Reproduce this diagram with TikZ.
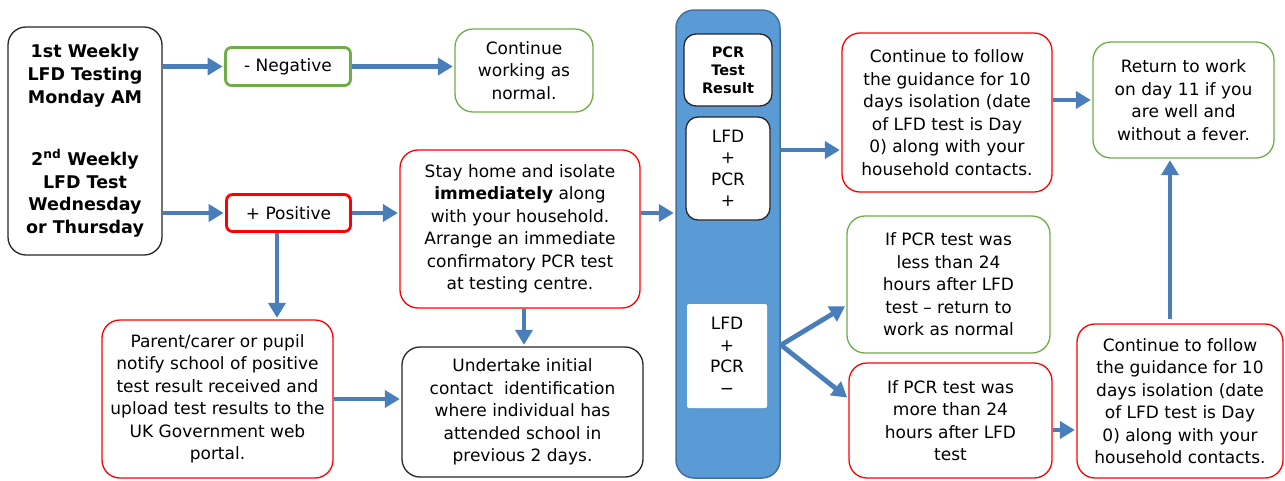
\documentclass[tikz,border=0pt]{standalone}
\usepackage{fontspec}
\setmainfont{DejaVu Sans}
\usetikzlibrary{arrows.meta}
\definecolor{flowblue}{HTML}{4A7EBB}
\definecolor{okgreen}{HTML}{70AD47}
\definecolor{colfill}{HTML}{5B9BD5}
\definecolor{coledge}{HTML}{41719C}
\begin{document}
\begin{tikzpicture}[x=1pt, y=-1pt,
    box/.style={draw, rounded corners=18pt, align=center, inner sep=0pt, line width=1.3pt, fill=white,
      font=\fontsize{17}{22.5}\selectfont},
    redbox/.style={box, draw=red},
    greenbox/.style={box, draw=okgreen},
    blackbox/.style={box, draw=black!85},
    flow/.style={draw=flowblue, line width=4.8pt, -{Triangle[length=15pt,width=17pt]}, shorten >=1.5pt}]
    \useasboundingbox (0,0) rectangle (1285,480);

    \draw (85,141) node[blackbox, minimum width=154, minimum height=228, font=\bfseries\fontsize{17.5}{22.8}\selectfont] (start)
        {1st Weekly\\LFD Testing\\Monday AM\\[39pt]2\textsuperscript{nd} Weekly\\LFD Test\\Wednesday\\or Thursday};
    \draw (288,66.5) node[greenbox, line width=2.8pt, rounded corners=6pt, minimum width=125, minimum height=38] (neg) {- Negative};
    \draw (288.5,213) node[redbox, line width=2.8pt, rounded corners=6pt, minimum width=124, minimum height=37] (pos) {+ Positive};
    \draw (524,70.5) node[greenbox, minimum width=138, minimum height=83] (cont) {Continue\\working as\\normal.};
    \draw (520,229) node[redbox, minimum width=240, minimum height=158] (stay)
        {Stay home and isolate\\\textbf{immediately} along\\with your household.\\Arrange an immediate\\confirmatory PCR test\\at testing centre.};
    \draw (217.5,399) node[redbox, minimum width=231, minimum height=158] (parent)
        {Parent/carer or pupil\\notify school of positive\\test result received and\\upload test results to the\\UK Government web\\portal.};
    \draw (522.5,412) node[blackbox, minimum width=241, minimum height=130] (undertake)
        {Undertake initial\\contact\ \ identification\\where individual has\\attended school in\\previous 2 days.};

    \draw (728,244) node[box, draw=coledge, fill=colfill, line width=1.5pt, minimum width=104, minimum height=468] (col) {};
    \draw (728,70) node[blackbox, rounded corners=12pt, minimum width=88, minimum height=72,
        font=\bfseries\fontsize{14.5}{18}\selectfont] (pcrres) {PCR\\Test\\Result};
    \draw (728,168.5) node[blackbox, rounded corners=12pt, minimum width=84, minimum height=103,
        font=\fontsize{17}{21.5}\selectfont] (lfdpos) {LFD\\+\\PCR\\+};
    \draw (727,356) node[box, draw=none, rounded corners=2pt, minimum width=80, minimum height=104,
        font=\fontsize{17}{21.5}\selectfont] (lfdneg) {LFD\\+\\PCR\\−};

    \draw (947,112.5) node[redbox, minimum width=210, minimum height=159] (cont10)
        {Continue to follow\\the guidance for 10\\days isolation (date\\of LFD test is Day\\0) along with your\\household contacts.};
    \draw (1183.5,100) node[greenbox, minimum width=181, minimum height=116] (ret)
        {Return to work\\on day 11 if you\\are well and\\without a fever.};
    \draw (948.5,284.5) node[greenbox, minimum width=203, minimum height=137] (less)
        {If PCR test was\\less than 24\\hours after LFD\\test – return to\\work as normal};
    \draw (950.5,420.5) node[redbox, minimum width=203, minimum height=115] (more)
        {If PCR test was\\more than 24\\hours after LFD\\test};
    \draw (1180,401) node[redbox, minimum width=206, minimum height=154] (cont10b)
        {Continue to follow\\the guidance for 10\\days isolation (date\\of LFD test is Day\\0) along with your\\household contacts.};
    \coordinate (fork) at (781,345);

    \draw[flow] (start.east |- neg.west) -- (neg.west);
    \draw[flow] (neg.east) -- (cont.west |- neg.east);
    \draw[flow] (start.east |- pos.west) -- (pos.west);
    \draw[flow] (pos.east) -- (stay.west |- pos.east);
    \draw[flow] (stay.east |- pos.east) -- (col.west |- pos.east);
    \draw[flow] ([xshift=-11.5pt]pos.south) -- ([xshift=59.5pt]parent.north);
    \draw[flow] ([xshift=4pt]stay.south) -- ([xshift=1.5pt]undertake.north);
    \draw[flow] (parent.east) -- (undertake.west |- parent.east);
    \draw[flow] (col.east |- 0,150) -- ([yshift=-37.5pt]cont10.west);
    \draw[flow] (cont10.east |- ret.west) -- (ret.west);
    \draw[flow] (fork) -- ([yshift=-21pt]less.west);
    \draw[flow] (fork) -- ([yshift=22pt]more.west);
    \draw[flow] ([yshift=-9.5pt]more.east) -- ([yshift=-29pt]cont10b.west);
    \draw[flow, shorten <=4pt] ([xshift=-10pt]cont10b.north) -- ([xshift=-13.5pt]ret.south);
\end{tikzpicture}
\end{document}
